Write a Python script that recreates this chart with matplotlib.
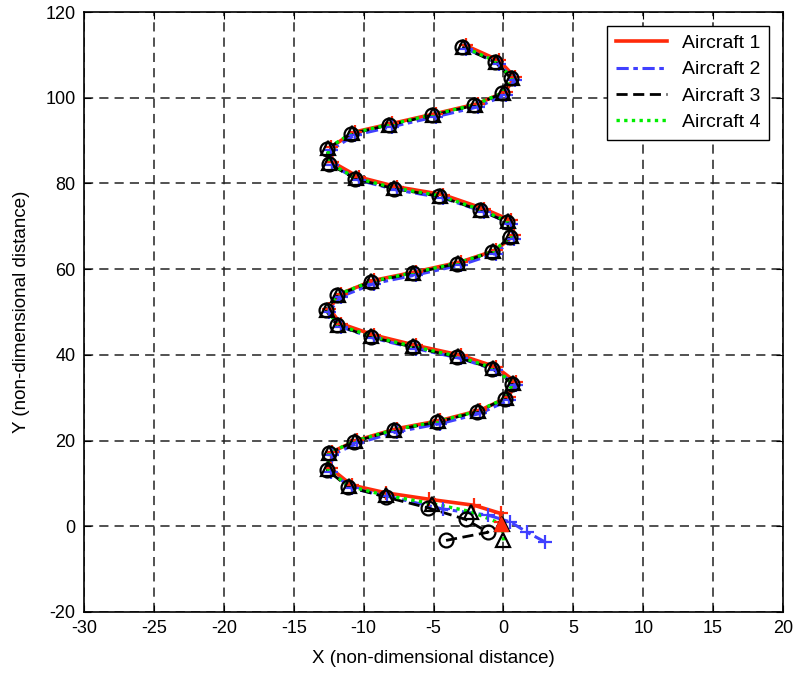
import matplotlib
matplotlib.use("Agg")
import matplotlib.pyplot as plt

plt.rcParams["axes.unicode_minus"] = False

# Shared formation path, bottom -> top
path_x = [-11.1, -12.6, -12.5, -10.7, -7.85, -4.75, -1.9, 0.14, 0.62, -0.8, -3.3, -6.5,
          -9.5, -11.9, -12.7, -11.9, -9.5, -6.5, -3.3, -0.8, 0.5, 0.26, -1.65, -4.6,
          -7.85, -10.6, -12.5, -12.6, -10.9, -8.2, -5.1, -2.1, -0.1, 0.55, -0.57, -2.95]
path_y = [9.2, 13.1, 17.0, 19.7, 22.4, 24.3, 26.7, 29.8, 33.3, 36.8, 39.5, 41.8,
          44.2, 46.9, 50.4, 53.9, 57.0, 59.0, 61.3, 64.0, 67.5, 71.0, 73.7, 77.0,
          78.8, 81.1, 84.6, 88.1, 91.6, 93.6, 95.9, 98.2, 101.0, 104.5, 108.3, 111.8]

# Individual approach segments before joining formation
a1_x = [-0.2, -0.2, -2.1, -5.3, -8.4]
a1_y = [1.0, 3.0, 4.9, 6.3, 7.8]
a2_x = [3.0, 1.7, 0.5, -1.1, -4.3, -8.3]
a2_y = [-3.7, -1.4, 1.0, 2.6, 4.0, 7.0]
a3_x = [-4.1, -1.1, -2.7, -5.4, -8.4]
a3_y = [-3.3, -1.4, 1.6, 4.3, 6.8]
a4_x = [0.0, -0.1, -2.3, -5.1, -8.4]
a4_y = [-3.3, 0.5, 3.4, 5.3, 7.2]

# formation offsets (x, y) of each aircraft along shared path
offsets = {"Aircraft 1": (0.25, 0.4), "Aircraft 2": (0.25, -0.35),
           "Aircraft 3": (0.0, 0.0), "Aircraft 4": (0.05, 0.15)}

labels = ["Aircraft 1", "Aircraft 2", "Aircraft 3", "Aircraft 4"]
starts = [(a1_x, a1_y), (a2_x, a2_y), (a3_x, a3_y), (a4_x, a4_y)]
colors = ["#ff2a0a", "#4040ff", "#000000", "#00ee00"]
styles = ["-", (0, (4, 1.5, 1.5, 1.5)), (0, (4, 2)), (0, (1, 1.3))]
widths = [2.6, 2.2, 2.0, 2.4]
markers = [("+", colors[0], colors[0]), ("+", colors[1], colors[1]),
           ("o", "black", "none"), ("^", "black", "none")]

fig = plt.figure(figsize=(7.96, 6.79), dpi=100)
ax = fig.add_axes([0.1055, 0.0987, 0.8782, 0.8836])

for lab, (sx, sy), c, ls, lw, (m, mec, mfc) in zip(labels, starts, colors, styles, widths, markers):
    dx, dy = offsets[lab]
    xs = list(sx) + [x + dx for x in path_x]
    ys = list(sy) + [y + dy for y in path_y]
    ax.plot(xs, ys, color=c, linestyle=ls, linewidth=lw, label=lab, zorder=3)
    ax.plot(xs, ys, linestyle="none", marker=m, markersize=10,
            markeredgecolor=mec, markerfacecolor=mfc, markeredgewidth=1.6, zorder=4)

# start marker of Aircraft 1
ax.plot([a1_x[0]], [a1_y[0] - 0.4], marker="^", color=colors[0], markersize=10,
        linestyle="none", zorder=5)

ax.set_xlim(-30, 20)
ax.set_ylim(-20, 120)
ax.set_xticks(range(-30, 21, 5))
ax.set_yticks(range(-20, 121, 20))
ax.grid(True, color="#222222", linestyle=(0, (6, 4)), linewidth=1.1)
ax.set_axisbelow(True)
ax.tick_params(direction="in", top=True, right=True, length=5, labelsize=13, pad=6)
for t in ax.get_xticklabels() + ax.get_yticklabels():
    t.set_fontfamily("Liberation Sans")
for s in ax.spines.values():
    s.set_linewidth(1.2)
    s.set_color("black")
    s.set_zorder(6)

ax.set_xlabel("X (non-dimensional distance)", fontsize=13.5, family="Liberation Sans",
              labelpad=9)
ax.set_ylabel("Y (non-dimensional distance)", fontsize=13.5, family="Liberation Sans", labelpad=11)

leg = ax.legend(loc="upper right", frameon=True, fancybox=False,
                edgecolor="black", framealpha=1, handlelength=2.6, borderpad=0.45,
                labelspacing=0.45, handletextpad=0.8, borderaxespad=0.7,
                prop={"family": "Liberation Sans", "size": 14})
leg.get_frame().set_linewidth(1.0)
leg.set_zorder(7)

fig.savefig("out.png", dpi=100)
